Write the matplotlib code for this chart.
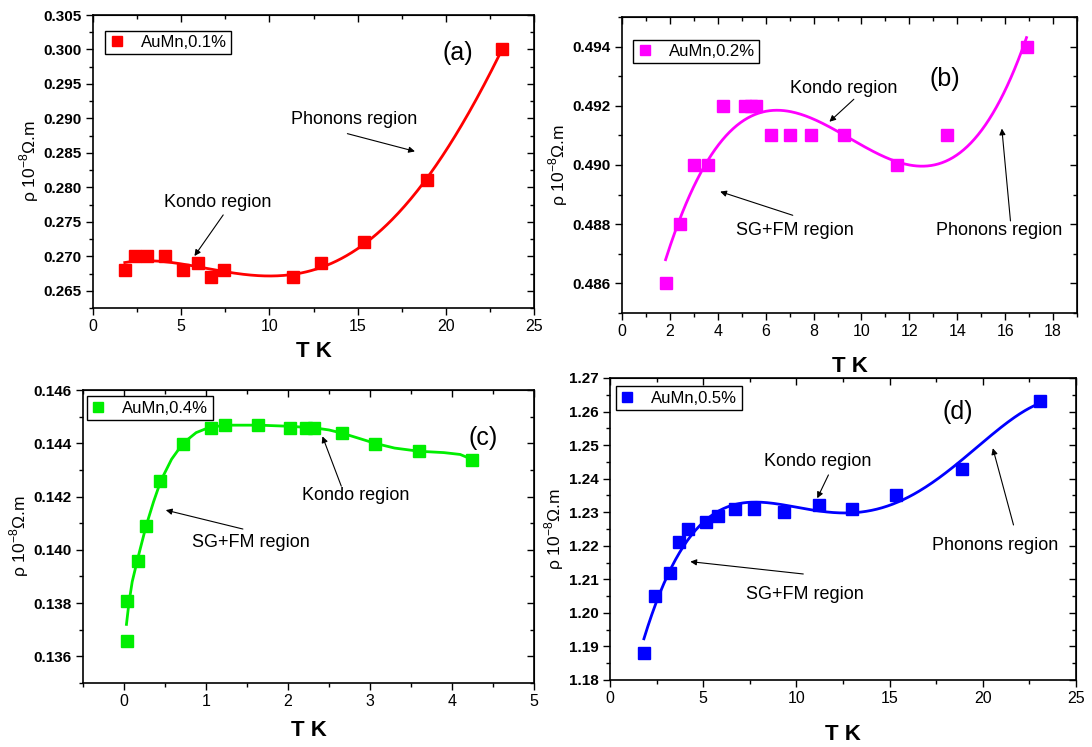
import numpy as np
import matplotlib
matplotlib.use("Agg")
import matplotlib.pyplot as plt
from matplotlib.ticker import MultipleLocator, FormatStrFormatter

plt.rcParams['font.family'] = ['Liberation Sans', 'DejaVu Sans']
plt.rcParams['mathtext.fontset'] = 'custom'
plt.rcParams['mathtext.rm'] = 'Liberation Sans'

# ---------------- data ----------------
# (a) AuMn 0.1%
a_T = [1.8, 2.4, 3.06, 4.09, 5.1, 5.97, 6.69, 7.42, 11.31, 12.94, 15.36, 18.95, 23.17]
a_rho = [0.268, 0.270, 0.270, 0.270, 0.268, 0.269, 0.267, 0.268, 0.267, 0.269, 0.272, 0.281, 0.300]

# (b) AuMn 0.2%
b_T = [1.82, 2.42, 3.0, 3.6, 4.22, 5.14, 5.39, 5.59, 6.22, 7.0, 7.9, 9.29, 11.5, 13.58, 16.89]
b_rho = [0.486, 0.488, 0.490, 0.490, 0.492, 0.492, 0.492, 0.492, 0.491, 0.491, 0.491, 0.491, 0.490, 0.491, 0.494]

# (c) AuMn 0.4%
c_T = [0.034, 0.042, 0.174, 0.267, 0.445, 0.72, 1.06, 1.23, 1.64, 2.02, 2.22, 2.32, 2.66, 3.06, 3.60, 4.24]
c_rho = [0.13659, 0.13808, 0.13959, 0.14089, 0.14259, 0.14398, 0.14458, 0.14467, 0.14467, 0.14458,
         0.14458, 0.14458, 0.14438, 0.14398, 0.14370, 0.14338]
# (c) smoothed curve
c_fit_T = [0.03, 0.06, 0.1, 0.17, 0.27, 0.36, 0.45, 0.58, 0.72, 0.88, 1.06, 1.3, 1.65, 2.0, 2.32,
           2.5, 2.66, 2.85, 3.06, 3.3, 3.6, 3.9, 4.1, 4.24]
c_fit_rho = [0.1372, 0.1380, 0.1388, 0.1397, 0.1409, 0.1418, 0.1426, 0.1434, 0.1440, 0.1444, 0.14462,
             0.14468, 0.14468, 0.14464, 0.14458, 0.14450, 0.14438, 0.14420, 0.14400, 0.14382,
             0.14370, 0.14365, 0.14358, 0.14340]

# (d) AuMn 0.5%
d_T = [1.82, 2.42, 3.2, 3.69, 4.21, 5.17, 5.79, 6.69, 7.7, 9.31, 11.2, 12.98, 15.37, 18.86, 23.05]
d_rho = [1.188, 1.205, 1.212, 1.221, 1.225, 1.227, 1.229, 1.231, 1.231, 1.230, 1.232, 1.231, 1.235, 1.243, 1.263]

labels = ['AuMn,0.1%', 'AuMn,0.2%', 'AuMn,0.4%', 'AuMn,0.5%']
colors = ['#ff0000', '#ff00ff', '#00ee00', '#0000ff']
fit_degrees = {'a': 4, 'b': 3, 'd': 4}

fig = plt.figure(figsize=(10.92, 7.47), dpi=100)

positions = [
    [0.0852, 0.5877, 0.4038, 0.3922],
    [0.5696, 0.5810, 0.4167, 0.3963],
    [0.0760, 0.0857, 0.4130, 0.3922],
    [0.5586, 0.0897, 0.4267, 0.4043],
]

def style_axes(ax, xlim, ylim, xmaj, xmin, ymaj, ymin, yfmt, xlabelpad):
    ax.set_xlim(*xlim)
    ax.set_ylim(*ylim)
    ax.xaxis.set_major_locator(MultipleLocator(xmaj))
    ax.xaxis.set_minor_locator(MultipleLocator(xmin))
    ax.yaxis.set_major_locator(MultipleLocator(ymaj))
    ax.yaxis.set_minor_locator(MultipleLocator(ymin))
    ax.yaxis.set_major_formatter(FormatStrFormatter(yfmt))
    ax.tick_params(which='major', direction='out', length=5, width=1.0, pad=3)
    ax.tick_params(which='minor', direction='out', length=3, width=1.0)
    ax.tick_params(axis='y', labelsize=11)
    ax.tick_params(axis='x', labelsize=11.5)
    for lab in ax.get_yticklabels():
        lab.set_fontweight('bold')
    for sp in ax.spines.values():
        sp.set_linewidth(1.2)
    # mirrored inward ticks on top and right
    top = ax.secondary_xaxis('top')
    top.xaxis.set_major_locator(MultipleLocator(xmaj))
    top.xaxis.set_minor_locator(MultipleLocator(xmin))
    top.tick_params(which='major', direction='in', length=5, width=1.0, labeltop=False)
    top.tick_params(which='minor', direction='in', length=3, width=1.0, labeltop=False)
    right = ax.secondary_yaxis('right')
    right.yaxis.set_major_locator(MultipleLocator(ymaj))
    right.yaxis.set_minor_locator(MultipleLocator(ymin))
    right.tick_params(which='major', direction='in', length=5, width=1.0, labelright=False)
    right.tick_params(which='minor', direction='in', length=3, width=1.0, labelright=False)
    ax.set_xlabel('T K', fontsize=16, fontweight='bold', labelpad=xlabelpad)
    ax.set_ylabel('ρ 10$^{-8}$Ω.m', fontsize=12.5, labelpad=2)

def add_legend(ax, anchor):
    leg = ax.legend(loc='upper left', bbox_to_anchor=anchor, borderaxespad=0, fancybox=False,
                    edgecolor='black', framealpha=1, fontsize=12, handlelength=0.9,
                    handletextpad=1.0, borderpad=0.25, markerscale=0.95)
    leg.get_frame().set_linewidth(1.0)

def annot(ax, text, xytext, fs=13):
    ax.text(xytext[0], xytext[1], text, fontsize=fs, ha='center', va='center')

def arrow(ax, start, end):
    ax.annotate('', xy=end, xytext=start,
                arrowprops=dict(arrowstyle='-|>', color='black', lw=0.8, mutation_scale=9,
                                shrinkA=0, shrinkB=0))

ms = 8
lw = 2.0

# ---- (a)
ax = fig.add_axes(positions[0])
fa = np.polyfit(a_T, a_rho, fit_degrees['a'])
xa = np.linspace(min(a_T), max(a_T), 300)
ax.plot(xa, np.polyval(fa, xa), color=colors[0], lw=lw)
ax.plot(a_T, a_rho, 's', color=colors[0], ms=ms, label=labels[0], linestyle='none')
style_axes(ax, (0, 25), (0.2625, 0.305), 5, 2.5, 0.005, 0.0025, '%.3f', 5)
add_legend(ax, (0.028, 0.947))
annot(ax, 'Kondo region', (7.04, 0.27785))
arrow(ax, (7.38, 0.2760), (5.75, 0.27004))
annot(ax, 'Phonons region', (14.82, 0.28982))
arrow(ax, (14.42, 0.28779), (18.25, 0.28522))
ax.text(20.67, 0.29952, '(a)', fontsize=18, ha='center', va='center')

# ---- (b)
ax = fig.add_axes(positions[1])
fb = np.polyfit(b_T, b_rho, fit_degrees['b'])
xb = np.linspace(min(b_T), max(b_T), 300)
ax.plot(xb, np.polyval(fb, xb), color=colors[1], lw=lw)
ax.plot(b_T, b_rho, 's', color=colors[1], ms=ms, label=labels[1], linestyle='none')
style_axes(ax, (0, 19), (0.485, 0.495), 2, 1, 0.002, 0.001, '%.3f', 12)
add_legend(ax, (0.024, 0.922))
annot(ax, 'Kondo region', (9.24, 0.49259))
arrow(ax, (9.68, 0.49222), (8.66, 0.49146))
annot(ax, 'SG+FM region', (7.2, 0.48779))
arrow(ax, (7.13, 0.48830), (4.10, 0.48910))
annot(ax, 'Phonons region', (15.75, 0.48779))
arrow(ax, (16.22, 0.48811), (15.86, 0.49123))
ax.text(13.46, 0.49289, '(b)', fontsize=18, ha='center', va='center')

# ---- (c)
ax = fig.add_axes(positions[2])
ax.plot(c_fit_T, c_fit_rho, color=colors[2], lw=lw)
ax.plot(c_T, c_rho, 's', color=colors[2], ms=ms, label=labels[2], linestyle='none')
style_axes(ax, (-0.5, 5), (0.135, 0.146), 1, 0.5, 0.002, 0.001, '%.3f', 8)
add_legend(ax, (0.008, 0.978))
annot(ax, 'Kondo region', (2.83, 0.14203))
arrow(ax, (2.65, 0.14239), (2.42, 0.14426))
annot(ax, 'SG+FM region', (1.55, 0.14027))
arrow(ax, (1.45, 0.14078), (0.51, 0.14149))
ax.text(4.38, 0.14421, '(c)', fontsize=18, ha='center', va='center')

# ---- (d)
ax = fig.add_axes(positions[3])
fd = np.polyfit(d_T, d_rho, fit_degrees['d'])
xd = np.linspace(min(d_T), max(d_T), 300)
ax.plot(xd, np.polyval(fd, xd), color=colors[3], lw=lw)
ax.plot(d_T, d_rho, 's', color=colors[3], ms=ms, label=labels[3], linestyle='none')
style_axes(ax, (0, 25), (1.18, 1.27), 5, 2.5, 0.01, 0.005, '%.2f', 13)
add_legend(ax, (0.012, 0.972))
annot(ax, 'Kondo region', (11.12, 1.24509))
arrow(ax, (11.72, 1.24111), (11.12, 1.23416))
annot(ax, 'SG+FM region', (10.43, 1.20553))
arrow(ax, (10.37, 1.21159), (4.31, 1.21527))
annot(ax, 'Phonons region', (20.67, 1.22004))
arrow(ax, (21.65, 1.2262), (20.54, 1.24907))
ax.text(18.67, 1.26, '(d)', fontsize=18, ha='center', va='center')

fig.savefig('out.png', dpi=100)
